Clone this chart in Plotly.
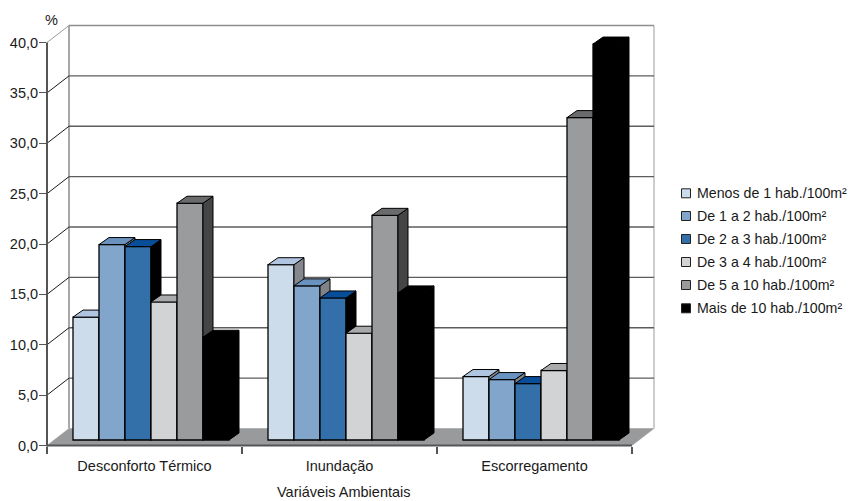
import plotly.graph_objects as go

# Data
categories = ["Desconforto Térmico", "Inundação", "Escorregamento"]
series_names = [
    "Menos de 1 hab./100m²",
    "De 1 a 2 hab./100m²",
    "De 2 a 3 hab./100m²",
    "De 3 a 4 hab./100m²",
    "De 5 a 10 hab./100m²",
    "Mais de 10 hab./100m²",
]
menos_de_1 = [12.2, 17.4, 6.3]
de_1_a_2 = [19.4, 15.3, 6.0]
de_2_a_3 = [19.2, 14.1, 5.6]
de_3_a_4 = [13.7, 10.6, 6.9]
de_5_a_10 = [23.5, 22.3, 32.0]
mais_de_10 = [10.2, 14.6, 39.3]
all_values = [menos_de_1, de_1_a_2, de_2_a_3, de_3_a_4, de_5_a_10, mais_de_10]
y_ticks = [0, 5, 10, 15, 20, 25, 30, 35, 40]
y_tick_labels = ["0,0", "5,0", "10,0", "15,0", "20,0", "25,0", "30,0", "35,0", "40,0"]

# Face colours of each bar series: front, top, side
front_colors = ["#CCDCEB", "#82A6CB", "#336FA9", "#D2D3D5", "#9A9B9D", "#000000"]
top_colors = ["#B0C6E0", "#6A92BF", "#084D98", "#A9AAAC", "#6A6B6D", "#000000"]
side_colors = ["#85898F", "#7F8388", "#000000", "#8C8D8F", "#454545", "#000000"]

# Plot frame in pixels, and the oblique projection derived from it
W, H = 848, 501
LEFT, RIGHT, BOTTOM, TOP = 47, 632, 445.5, 42.5
PX_X = (RIGHT - LEFT) / 3
PX_Y = (BOTTOM - TOP) / 40
WALL_PX_X, WALL_PX_Y = 22, 17
WALL_DX, WALL_DY = WALL_PX_X / PX_X, WALL_PX_Y / PX_Y    # depth of the floor
BAR_DX, BAR_DY = 10 / PX_X, 7 / PX_Y                     # depth of a bar
BAR_W = 26 / PX_X
BAR_START = 26 / PX_X                                    # first bar's left edge within a category
BAR_BASE = 5.5 / PX_Y                                    # bars stand slightly inside the floor

# The plot area runs past the front frame so the walls fit inside it
AREA_RIGHT = RIGHT + WALL_PX_X + 2
AREA_TOP = TOP - WALL_PX_Y - 2
X_RANGE = [0, (AREA_RIGHT - LEFT) / PX_X]
Y_RANGE = [0, (BOTTOM - AREA_TOP) / PX_Y]
X_DOMAIN = [LEFT / W, AREA_RIGHT / W]
Y_DOMAIN = [1 - BOTTOM / H, 1 - AREA_TOP / H]

TEXT = "#1a1a1a"
FONT = "Liberation Sans, Arial, sans-serif"
FS = 14.5
LEGEND_FS = 14.2
AXIS_COLOR = "#555555"

fig = go.Figure()


def outline(pairs):
    xs, ys = [], []
    for poly in pairs:
        xs += [p[0] for p in poly] + [poly[0][0], None]
        ys += [p[1] for p in poly] + [poly[0][1], None]
    return xs, ys


def wall_trace(xs, ys, color, width, fill=None):
    fig.add_trace(go.Scatter(
        x=xs, y=ys, mode="lines", line=dict(color=color, width=width),
        fill="toself" if fill else None, fillcolor=fill, showlegend=False,
        hoverinfo="skip",
    ))


# Floor
wall_trace([0, 3, 3 + WALL_DX, WALL_DX, 0], [0, 0, WALL_DY, WALL_DY, 0], "#999A9C", 0.5, "#999A9C")

# Back wall edges
wall_trace([WALL_DX, WALL_DX], [WALL_DY, 40 + WALL_DY], "#A8A8A8", 2)
wall_trace([3 + WALL_DX, 3 + WALL_DX], [WALL_DY, 40 + WALL_DY], "#BDBDBD", 1.5)

# Gridlines across the back wall and down the side wall
for v in y_ticks[1:]:
    top_line = v == y_ticks[-1]
    wall_trace([WALL_DX, 3 + WALL_DX], [v + WALL_DY, v + WALL_DY], "#8E8E8E" if top_line else "#5C5C5C", 1.4)
    wall_trace([0, WALL_DX], [v, v + WALL_DY], "#9A9A9A" if top_line else "#1a1a1a", 1)

# One overlaid axis pair per series, so each series paints over the side of the previous one
for s, (name, values) in enumerate(zip(series_names, all_values)):
    axis_id = str(s + 2)
    xa, ya = "x" + axis_id, "y" + axis_id
    lefts = [c + BAR_START + s * BAR_W for c in range(len(categories))]
    fig.add_trace(go.Bar(
        x=[l + BAR_W / 2 for l in lefts], y=values, base=BAR_BASE, width=BAR_W, name=name,
        marker=dict(color=front_colors[s], line=dict(color="#000000", width=1.3)),
        xaxis=xa, yaxis=ya, showlegend=False, hoverinfo="y",
    ))
    tops, sides = [], []
    for l, v in zip(lefts, values):
        r = l + BAR_W
        h = BAR_BASE + v
        tops.append([(l, h), (l + BAR_DX, h + BAR_DY), (r + BAR_DX, h + BAR_DY), (r, h)])
        sides.append([(r, BAR_BASE), (r + BAR_DX, BAR_BASE + BAR_DY), (r + BAR_DX, h + BAR_DY), (r, h)])
    for polys, color in ((sides, side_colors[s]), (tops, top_colors[s])):
        xs, ys = outline(polys)
        fig.add_trace(go.Scatter(
            x=xs, y=ys, mode="lines", fill="toself", fillcolor=color,
            line=dict(color="#000000", width=1), showlegend=False, hoverinfo="skip",
            xaxis=xa, yaxis=ya,
        ))
    fig.layout["xaxis" + axis_id] = dict(
        overlaying="x", range=X_RANGE, domain=X_DOMAIN, visible=False, anchor=ya)
    fig.layout["yaxis" + axis_id] = dict(
        overlaying="y", range=Y_RANGE, domain=Y_DOMAIN, visible=False, anchor=xa)

# Front frame lines of the box
shapes = [
    dict(type="line", xref="paper", yref="paper", x0=LEFT / W, x1=LEFT / W,
         y0=1 - (BOTTOM + 1) / H, y1=1 - TOP / H, line=dict(color=AXIS_COLOR, width=2), layer="above"),
    dict(type="line", xref="paper", yref="paper", x0=LEFT / W, x1=RIGHT / W,
         y0=1 - BOTTOM / H, y1=1 - BOTTOM / H, line=dict(color=AXIS_COLOR, width=2), layer="above"),
]

# Key on the right: one swatch and one label per series
KEY_ROWS = [193.3, 216, 239, 262, 285, 308.3]
annotations = [
    dict(text="%", xref="paper", yref="paper", x=51 / W, y=1 - 20 / H, showarrow=False,
         xanchor="center", yanchor="middle", font=dict(size=FS)),
    dict(text="Variáveis Ambientais", xref="paper", yref="paper", x=344 / W, y=1 - 492 / H,
         showarrow=False, xanchor="center", yanchor="middle", font=dict(size=FS)),
]
for name, color, row in zip(series_names, front_colors, KEY_ROWS):
    shapes.append(dict(type="rect", xref="paper", yref="paper",
                       x0=681.5 / W, x1=690.5 / W, y0=1 - (row + 4.5) / H, y1=1 - (row - 4.5) / H,
                       fillcolor=color, line=dict(color="#222222", width=1)))
    annotations.append(dict(text=name, xref="paper", yref="paper", x=694.5 / W, y=1 - row / H,
                            showarrow=False, xanchor="left", yanchor="middle",
                            xshift=0, font=dict(size=LEGEND_FS)))

fig.update_layout(
    width=W, height=H, paper_bgcolor="white", plot_bgcolor="white",
    margin=dict(l=0, r=0, t=0, b=0, autoexpand=False),
    font=dict(family=FONT, size=FS, color=TEXT),
    barmode="overlay", hovermode="closest", showlegend=False,
    xaxis=dict(
        range=X_RANGE, domain=X_DOMAIN, showgrid=False, zeroline=False, showline=False,
        tickmode="array", tickvals=[0.5, 1.5, 2.5], ticktext=categories,
        ticks="outside", ticklen=7, tickcolor="rgba(0,0,0,0)",
        minor=dict(tickmode="array", tickvals=[0, 1, 2, 3], ticks="outside",
                   ticklen=7, tickcolor=AXIS_COLOR, tickwidth=1.5),
    ),
    yaxis=dict(
        range=Y_RANGE, domain=Y_DOMAIN, showgrid=False, zeroline=False, showline=False,
        tickmode="array", tickvals=y_ticks, ticktext=y_tick_labels,
        ticks="outside", ticklen=7, tickcolor=AXIS_COLOR, tickwidth=1.2, ticklabelstandoff=-2,
    ),
    shapes=shapes,
    annotations=annotations,
)

fig.write_html("out.html")
